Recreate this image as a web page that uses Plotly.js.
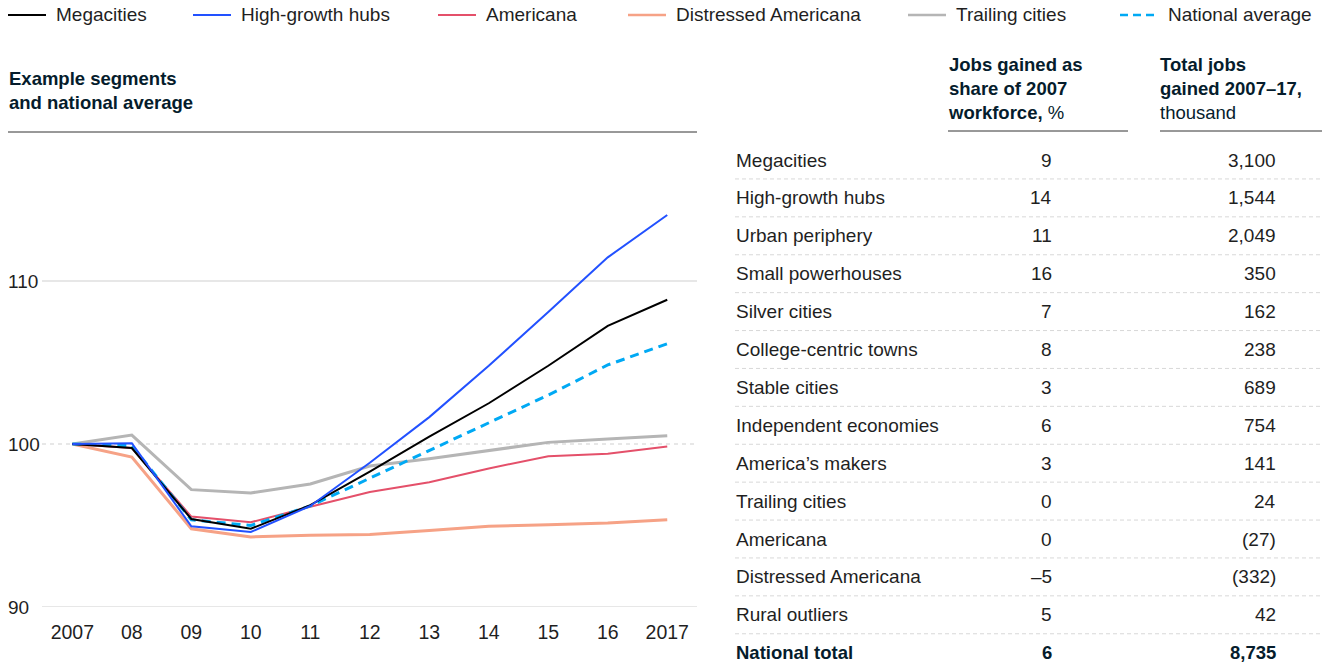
<!DOCTYPE html>
<html>
<head>
<meta charset="utf-8">
<script src="https://cdn.plot.ly/plotly-3.0.1.min.js"></script>
<style>
  html, body { margin: 0; padding: 0; background: #fff; }
  #chart { width: 1332px; height: 666px; }
</style>
</head>
<body>
<div id="chart"></div>
<script>
// index, 2007 = 100
const years = [2007, 2008, 2009, 2010, 2011, 2012, 2013, 2014, 2015, 2016, 2017];
const yearLabels = ["2007", "08", "09", "10", "11", "12", "13", "14", "15", "16", "2017"];
const megacities = [100, 99.75, 95.4, 94.8, 96.25, 98.3, 100.45, 102.5, 104.8, 107.25, 108.85];
const highGrowthHubs = [100, 100.05, 94.95, 94.6, 96.2, 98.85, 101.65, 104.8, 108.1, 111.45, 114.05];
const americana = [100, 99.75, 95.55, 95.2, 96.15, 97.05, 97.65, 98.5, 99.25, 99.4, 99.85];
const distressedAmericana = [100, 99.2, 94.8, 94.3, 94.4, 94.45, 94.7, 94.95, 95.05, 95.15, 95.35];
const trailingCities = [100, 100.55, 97.2, 97.0, 97.55, 98.65, 99.1, 99.6, 100.1, 100.3, 100.5];
const nationalAverage = [100, 99.9, 95.35, 95.0, 96.2, 97.9, 99.6, 101.3, 103.0, 104.85, 106.15];
const yTicks = [90, 100, 110];

// table on the right
const segments = ["Megacities", "High-growth hubs", "Urban periphery", "Small powerhouses", "Silver cities",
  "College-centric towns", "Stable cities", "Independent economies", "America\u2019s makers", "Trailing cities",
  "Americana", "Distressed Americana", "Rural outliers"];
const shareGained = ["9", "14", "11", "16", "7", "8", "3", "6", "3", "0", "0", "\u20135", "5"];
const totalGained = ["3,100", "1,544", "2,049", "350", "162", "238", "689", "754", "141", "24", "(27)", "(332)", "42"];
const totalRow = ["National total", "6", "8,735"];

const W = 1332, H = 666;
const FONT = "Liberation Sans, Arial, sans-serif";
const TEXT = "#1f1f1f";
const NAVY = "#051c2c";
const px = x => x / W;
const py = y => 1 - y / H;

// series style, in drawing order
const series = [
  {name: "Distressed Americana", y: distressedAmericana, color: "#f6a286", width: 3, dash: "solid"},
  {name: "Trailing cities", y: trailingCities, color: "#b5b5b5", width: 3, dash: "solid"},
  {name: "Americana", y: americana, color: "#e4506a", width: 2, dash: "solid"},
  {name: "National average", y: nationalAverage, color: "#00a9f4", width: 3, dash: "9px,6px"},
  {name: "Megacities", y: megacities, color: "#000000", width: 2, dash: "solid"},
  {name: "High-growth hubs", y: highGrowthHubs, color: "#2251ff", width: 2, dash: "solid"}
];
const legendOrder = ["Megacities", "High-growth hubs", "Americana", "Distressed Americana", "Trailing cities", "National average"];
const legendX = [8, 193, 438, 628, 908, 1120];

const data = series.map(s => ({
  x: years, y: s.y, type: "scatter", mode: "lines", name: s.name,
  line: {color: s.color, width: s.width, dash: s.dash},
  showlegend: false, hoverinfo: "skip"
}));

const shapes = [];
const annotations = [];

// legend
legendOrder.forEach((name, i) => {
  const s = series.find(t => t.name === name);
  shapes.push({type: "line", xref: "paper", yref: "paper", x0: px(legendX[i]), x1: px(legendX[i] + 38),
    y0: py(15), y1: py(15), line: {color: s.color, width: s.width === 3 ? 2.5 : 2, dash: s.dash === "solid" ? "solid" : "8px,5px"}});
  annotations.push({xref: "paper", yref: "paper", x: px(legendX[i] + 46), y: py(15), xanchor: "left", yanchor: "middle",
    text: name, showarrow: false, font: {family: FONT, size: 19, color: TEXT}});
});

// chart title and rule
annotations.push({xref: "paper", yref: "paper", x: px(7), y: py(66), xanchor: "left", yanchor: "top", align: "left",
  text: "<b>Example segments<br>and national average</b>", showarrow: false, font: {family: FONT, size: 18.5, color: NAVY}});
shapes.push({type: "line", xref: "paper", yref: "paper", x0: px(8), x1: px(697), y0: py(132), y1: py(132),
  line: {color: "#333", width: 1}});

// gridlines and y labels
yTicks.forEach(v => {
  shapes.push({type: "line", xref: "paper", yref: "y", x0: px(42), x1: px(697), y0: v, y1: v, layer: "below",
    line: {color: "#d0d0d0", width: 1.2, dash: v === 100 ? "4px,4px" : "solid"}});
  annotations.push({xref: "paper", yref: "y", x: px(6), y: v, xanchor: "left", yanchor: "middle",
    text: String(v), showarrow: false, font: {family: FONT, size: 19, color: TEXT}});
});

// table headers
annotations.push({xref: "paper", yref: "paper", x: px(946), y: py(52), xanchor: "left", yanchor: "top", align: "left",
  text: "<b>Jobs gained as<br>share of 2007<br>workforce,</b> %", showarrow: false,
  font: {family: FONT, size: 18.5, color: NAVY}});
annotations.push({xref: "paper", yref: "paper", x: px(1158), y: py(52), xanchor: "left", yanchor: "top", align: "left",
  text: "<b>Total jobs<br>gained 2007\u201317,</b><br>thousand", showarrow: false,
  font: {family: FONT, size: 18.5, color: NAVY}});
shapes.push({type: "line", xref: "paper", yref: "paper", x0: px(948), x1: px(1128), y0: py(131), y1: py(131), line: {color: "#333", width: 1}});
shapes.push({type: "line", xref: "paper", yref: "paper", x0: px(1160), x1: px(1322), y0: py(131), y1: py(131), line: {color: "#333", width: 1}});

// table rows
const rowTop = 160, rowStep = 37.9;
const rows = segments.map((s, i) => [s, shareGained[i], totalGained[i]]).concat([totalRow]);
rows.forEach((r, i) => {
  const y = py(rowTop + i * rowStep);
  const bold = i === rows.length - 1;
  const f = {family: FONT, size: bold ? 18.5 : 19, color: bold ? NAVY : TEXT};
  const t = v => bold ? "<b>" + v + "</b>" : v;
  annotations.push({xref: "paper", yref: "paper", x: px(734), y: y, xanchor: "left", yanchor: "middle", text: t(r[0]), showarrow: false, font: f});
  annotations.push({xref: "paper", yref: "paper", x: px(1054), y: y, xanchor: "right", yanchor: "middle", text: t(r[1]), showarrow: false, font: f});
  annotations.push({xref: "paper", yref: "paper", x: px(1278), y: y, xanchor: "right", yanchor: "middle", text: t(r[2]), showarrow: false, font: f});
  if (!bold) {
    shapes.push({type: "line", xref: "paper", yref: "paper", x0: px(735), x1: px(1322),
      y0: py(rowTop + i * rowStep + rowStep / 2), y1: py(rowTop + i * rowStep + rowStep / 2),
      line: {color: "#d8d8d8", width: 1, dash: "4px,3px"}});
  }
});

const layout = {
  width: W, height: H,
  margin: {l: 0, r: 0, t: 0, b: 0},
  paper_bgcolor: "#fff", plot_bgcolor: "rgba(0,0,0,0)",
  showlegend: false,
  font: {family: FONT, size: 19, color: TEXT},
  xaxis: {
    domain: [px(42), px(697)], range: [2006.49, 2017.5],
    tickvals: years, ticktext: yearLabels, tickfont: {family: FONT, size: 19.5, color: TEXT},
    showgrid: false, zeroline: false, showline: false, ticks: "", ticklabelstandoff: 11, fixedrange: true
  },
  yaxis: {
    domain: [py(607), py(118)], range: [90, 120],
    showgrid: false, zeroline: false, showline: false, showticklabels: false, fixedrange: true
  },
  shapes: shapes,
  annotations: annotations
};

Plotly.newPlot("chart", data, layout, {staticPlot: true, displayModeBar: false});
</script>
</body>
</html>
